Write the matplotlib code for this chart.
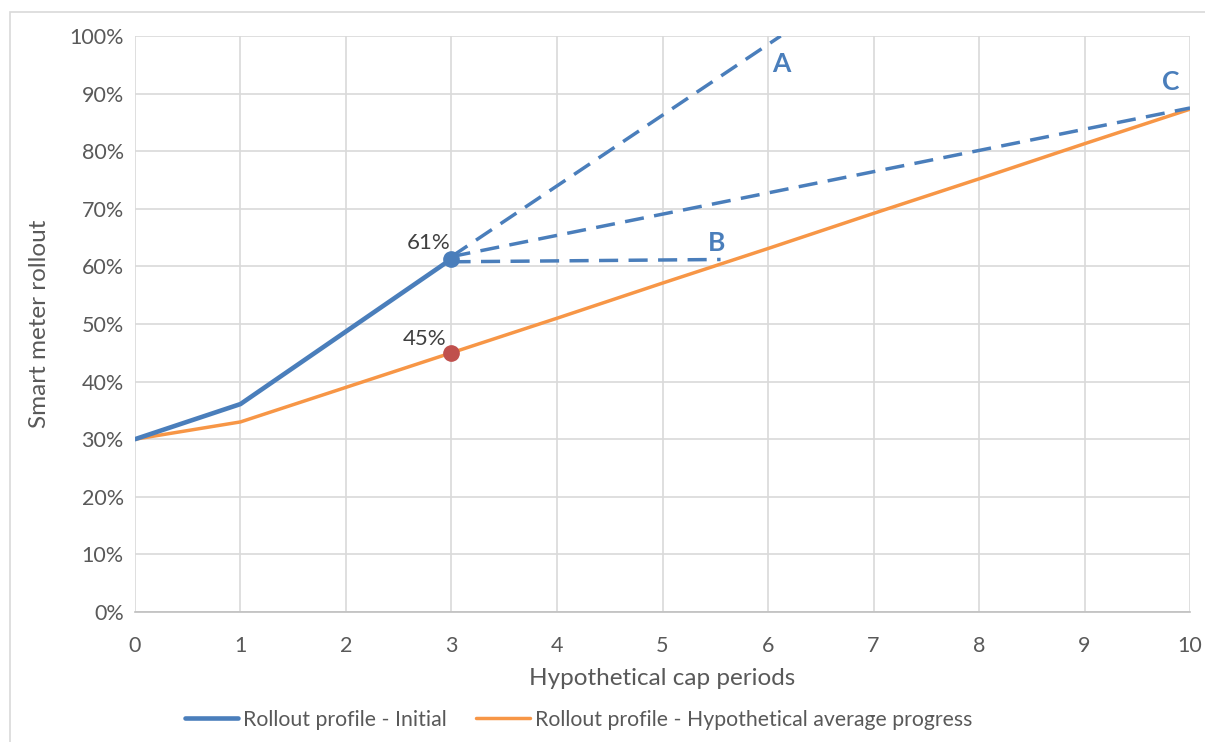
import matplotlib.pyplot as plt
from matplotlib.patches import Rectangle
from matplotlib.ticker import PercentFormatter

plt.rcParams['font.family'] = ['Lato', 'DejaVu Sans']

# rollout series (share of meters installed)
periods = [0, 1, 2, 3, 4, 5, 6, 7, 8, 9, 10]
initial_x = [0, 1, 2, 3]
initial_y = [0.30, 0.361, 0.487, 0.613]
average_y = [0.30, 0.33, 0.39, 0.45, 0.510, 0.571, 0.631, 0.692, 0.752, 0.813, 0.873]

# scenario projections from period 3
scen_a_x = [3, 6.12]
scen_a_y = [0.617, 1.00]
scen_b_x = [3, 5.55]
scen_b_y = [0.608, 0.612]
scen_c_x = [3, 10]
scen_c_y = [0.617, 0.875]

blue = '#4A7EBB'
orange = '#F79646'
red = '#C0504D'
grey_text = '#595959'

fig = plt.figure(figsize=(12.05, 7.42), dpi=100)
ax = fig.add_axes([0.112, 0.1752, 0.8756, 0.7763])

ax.plot(initial_x, initial_y, color=blue, lw=3.3, solid_capstyle='round', zorder=4,
        label='Rollout profile - Initial')
ax.plot(periods, average_y, color=orange, lw=2.5, solid_capstyle='round', zorder=3,
        label='Rollout profile - Hypothetical average progress')

for xs, ys in [(scen_a_x, scen_a_y), (scen_b_x, scen_b_y), (scen_c_x, scen_c_y)]:
    ax.plot(xs, ys, color=blue, lw=2.5, ls=(0, (5.5, 3.0)), zorder=4)

ax.plot(initial_x[-1], initial_y[-1], 'o', color=blue, ms=11, zorder=5)
ax.plot(periods[3], average_y[3], 'o', color=red, ms=11, zorder=5)

ax.annotate('61%', (initial_x[-1], initial_y[-1]), xytext=(-1, 4), textcoords='offset points',
            ha='right', va='bottom', fontsize=16, color='#404040')
ax.annotate('45%', (periods[3], average_y[3]), xytext=(-4, 3), textcoords='offset points',
            ha='right', va='bottom', fontsize=16, color='#404040')

ax.text(6.04, 0.952, 'A', color=blue, fontsize=19, fontweight='bold', ha='left', va='center')
ax.text(5.43, 0.641, 'B', color=blue, fontsize=19, fontweight='bold', ha='left', va='center')
ax.text(9.73, 0.920, 'C', color=blue, fontsize=19, fontweight='bold', ha='left', va='center')

ax.set_xlim(0, 10)
ax.set_ylim(0, 1)
ax.set_xticks(periods)
ax.set_yticks([i / 10 for i in range(11)])
ax.yaxis.set_major_formatter(PercentFormatter(1.0, decimals=0))
ax.grid(True, color='#D9D9D9', lw=1.2)
ax.set_axisbelow(True)
for side in ['top', 'right', 'left']:
    ax.spines[side].set_visible(False)
ax.spines['bottom'].set_color('#BFBFBF')
ax.spines['bottom'].set_linewidth(1.2)
ax.tick_params(length=0, labelsize=15.5, labelcolor=grey_text)
ax.tick_params(axis='x', pad=17)
ax.tick_params(axis='y', pad=8)

ax.set_xlabel('Hypothetical cap periods', fontsize=17.5, color=grey_text, labelpad=9)
ax.set_ylabel('Smart meter rollout', fontsize=17.5, color=grey_text, labelpad=14)

fig.legend(loc='center', bbox_to_anchor=(0.48, 0.03), ncol=2, frameon=False,
           fontsize=15.3, labelcolor=grey_text, handlelength=2.5, handletextpad=0.25,
           columnspacing=1.4)

fig.patches.append(Rectangle((10 / 1205, -0.05), 1.2, 1 - 12 / 742 + 0.05, transform=fig.transFigure,
                             fill=False, edgecolor='#D9D9D9', lw=1.2, zorder=0))

fig.savefig('out.png', dpi=100)
